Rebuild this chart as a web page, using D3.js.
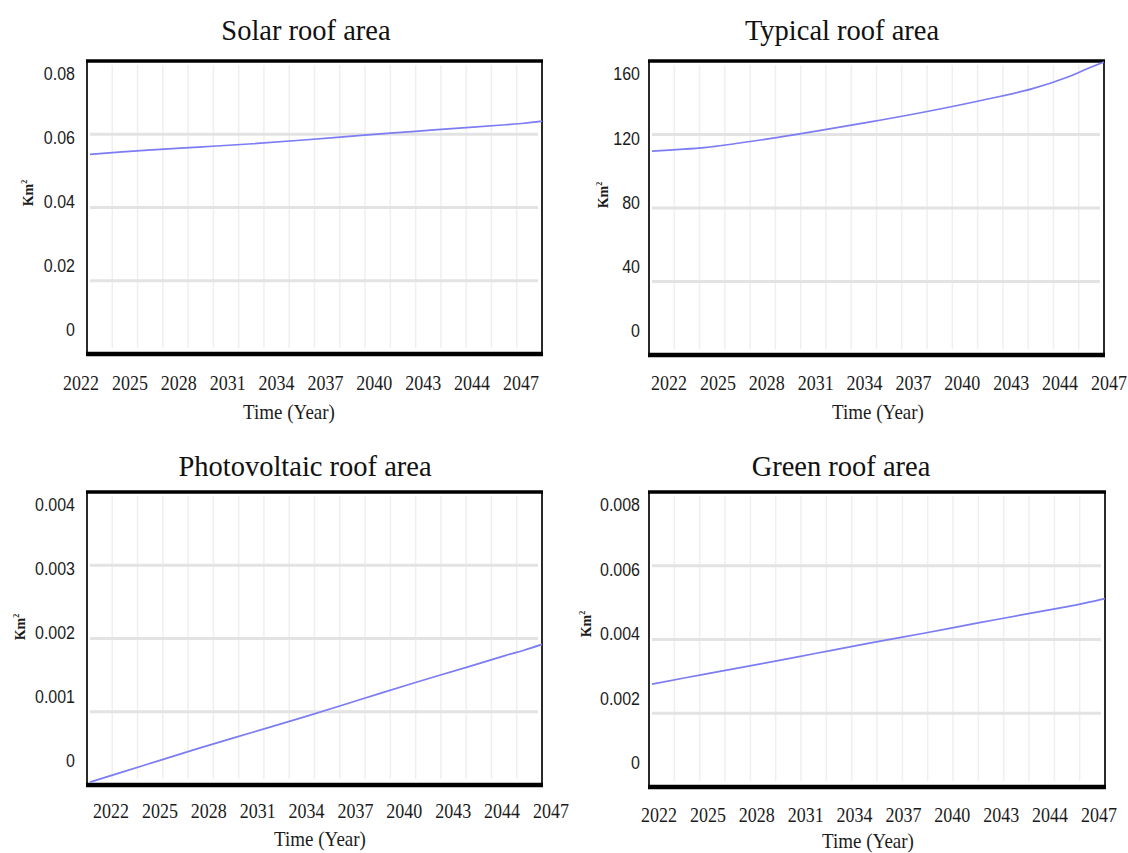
<!DOCTYPE html>
<html>
<head>
<meta charset="utf-8">
<script src="https://cdn.jsdelivr.net/npm/d3@7/dist/d3.min.js"></script>
<style>
body { margin: 0; background: #fff; }
</style>
</head>
<body>
<div id="chart"></div>
<script>
// values
var years = [2022, 2025, 2028, 2031, 2034, 2037, 2040, 2043, 2045, 2046, 2047];
var solarArea = [0.0545, 0.0556, 0.0565, 0.0574, 0.0585, 0.0597, 0.0608, 0.0619, 0.0626, 0.0630, 0.0636];
var typicalArea = [111, 113, 117, 121.7, 126.7, 132.1, 138.1, 144.8, 151.3, 155.5, 159.5];
var pvArea = [0.00004, 0.00027, 0.0005, 0.00072, 0.00094, 0.00117, 0.0014, 0.00162, 0.00177, 0.00184, 0.00192];
var greenArea = [0.00279, 0.00307, 0.00334, 0.00362, 0.0039, 0.00417, 0.00445, 0.00472, 0.0049, 0.005, 0.00511];

var xTickLabels = ["2022", "2025", "2028", "2031", "2034", "2037", "2040", "2043", "2044", "2047"];
var solarTicks = [0, 0.02, 0.04, 0.06, 0.08];
var typicalTicks = [0, 40, 80, 120, 160];
var pvTicks = [0, 0.001, 0.002, 0.003, 0.004];
var greenTicks = [0, 0.002, 0.004, 0.006, 0.008];
var titles = ["Solar roof area", "Typical roof area", "Photovoltaic roof area", "Green roof area"];

var W = 1128, H = 853;
var lineColor = "#7c7cf4";
var textColor = "#1b1b1b";

// layout of each panel (pixel boxes)
var panels = [
    {title: titles[0], values: solarArea, ticks: solarTicks,
     frame: {l: 87, t: 61, r: 542, b: 354}, xl: [81, 521], xLabY: 383,
     titleX: 306, titleY: 40, timeX: 289, timeY: 412, kmX: 28, kmY: 193, yLabR: 75},
    {title: titles[1], values: typicalArea, ticks: typicalTicks,
     frame: {l: 649, t: 61, r: 1104, b: 355}, xl: [669, 1109], xLabY: 383,
     titleX: 842, titleY: 40, timeX: 878, timeY: 412, kmX: 603, kmY: 195, yLabR: 640},
    {title: titles[2], values: pvArea, ticks: pvTicks,
     frame: {l: 87, t: 492, r: 542, b: 785}, xl: [111, 551], xLabY: 811,
     titleX: 305, titleY: 476, timeX: 320, timeY: 839, kmX: 20, kmY: 627, yLabR: 75},
    {title: titles[3], values: greenArea, ticks: greenTicks,
     frame: {l: 649, t: 492, r: 1105, b: 787}, xl: [659, 1099], xLabY: 815,
     titleX: 841, titleY: 476, timeX: 868, timeY: 841, kmX: 586, kmY: 624, yLabR: 640}
];

var svg = d3.select("#chart")
    .append("svg")
    .attr("width", W)
    .attr("height", H)
    .style("background", "#fff");

// text is slightly stretched vertically in the original
function place(x, y, sy) {
    return "translate(" + x + "," + y + ") scale(1," + sy + ")";
}

panels.forEach(function(p) {
    var f = p.frame;
    var g = svg.append("g");
    var ymax = d3.max(p.ticks);

    var x = d3.scaleLinear().domain([years[0], years[years.length - 1]]).range([f.l + 3, f.r]);
    var y = d3.scaleLinear().domain([0, ymax]).range([f.b, f.t]);
    var yLab = d3.scaleLinear().domain([0, ymax]).range([f.b - 24, f.t + 13]);
    var xLab = d3.scalePoint().domain(xTickLabels).range(p.xl);
    var gx = d3.scaleLinear().domain([0, 18]).range([f.l, f.r]);

    // faint vertical grid
    g.selectAll(".vgrid")
        .data(d3.range(1, 18))
        .enter()
        .append("line")
        .attr("x1", function(d) { return gx(d); })
        .attr("x2", function(d) { return gx(d); })
        .attr("y1", f.t + 4)
        .attr("y2", f.b - 6)
        .attr("stroke", "#efefef")
        .attr("stroke-width", 1.5);

    // horizontal grid, thicker and grey
    g.selectAll(".hgrid")
        .data(p.ticks.slice(1, -1))
        .enter()
        .append("line")
        .attr("x1", f.l + 3)
        .attr("x2", f.r - 4)
        .attr("y1", function(d) { return y(d); })
        .attr("y2", function(d) { return y(d); })
        .attr("stroke", "#e3e3e3")
        .attr("stroke-width", 3);

    // frame
    g.append("rect")
        .attr("x", f.l)
        .attr("y", f.t)
        .attr("width", f.r - f.l)
        .attr("height", f.b - f.t)
        .attr("fill", "none")
        .attr("stroke", "#2a2a2a")
        .attr("stroke-width", 2);
    g.append("line")
        .attr("x1", f.l - 1).attr("x2", f.r + 1)
        .attr("y1", f.t).attr("y2", f.t)
        .attr("stroke", "#000").attr("stroke-width", 3.5);
    g.append("line")
        .attr("x1", f.l - 1).attr("x2", f.r + 1)
        .attr("y1", f.b).attr("y2", f.b)
        .attr("stroke", "#000").attr("stroke-width", 4.5);

    // data line
    var line = d3.line()
        .x(function(d, i) { return x(years[i]); })
        .y(function(d) { return y(d); })
        .curve(d3.curveCatmullRom);
    g.append("path")
        .datum(p.values)
        .attr("d", line)
        .attr("fill", "none")
        .attr("stroke", lineColor)
        .attr("stroke-width", 1.7);

    // y tick labels
    g.selectAll(".ylab")
        .data(p.ticks)
        .enter()
        .append("text")
        .attr("transform", function(d) { return place(p.yLabR, yLab(d), 1.14); })
        .attr("dy", "0.35em")
        .attr("text-anchor", "end")
        .attr("font-family", "'Liberation Sans', Arial, sans-serif")
        .attr("font-size", "16px")
        .attr("fill", textColor)
        .text(function(d) { return String(d); });

    // x tick labels
    g.selectAll(".xlab")
        .data(xTickLabels)
        .enter()
        .append("text")
        .attr("transform", function(d) { return place(xLab(d), p.xLabY, 1.14); })
        .attr("dy", "0.35em")
        .attr("text-anchor", "middle")
        .attr("font-family", "'Liberation Serif', 'Times New Roman', serif")
        .attr("font-size", "18px")
        .attr("fill", textColor)
        .text(function(d) { return d; });

    // axis title
    g.append("text")
        .attr("transform", place(p.timeX, p.timeY, 1.08))
        .attr("dy", "0.35em")
        .attr("text-anchor", "middle")
        .attr("font-family", "'Liberation Serif', 'Times New Roman', serif")
        .attr("font-size", "19px")
        .attr("fill", textColor)
        .text("Time (Year)");

    var km = g.append("text")
        .attr("transform", "translate(" + p.kmX + "," + p.kmY + ") rotate(-90)")
        .attr("dy", "0.35em")
        .attr("text-anchor", "middle")
        .attr("font-family", "'Liberation Serif', 'Times New Roman', serif")
        .attr("font-weight", "bold")
        .attr("font-size", "14px")
        .attr("fill", textColor);
    km.append("tspan").text("Km");
    km.append("tspan").attr("dy", "-6").attr("font-size", "8px").text("2");

    // panel title
    g.append("text")
        .attr("transform", place(p.titleX, p.titleY, 1.07))
        .attr("text-anchor", "middle")
        .attr("font-family", "'Liberation Serif', 'Times New Roman', serif")
        .attr("font-size", "28.5px")
        .attr("fill", "#111")
        .text(p.title);
});
</script>
</body>
</html>
